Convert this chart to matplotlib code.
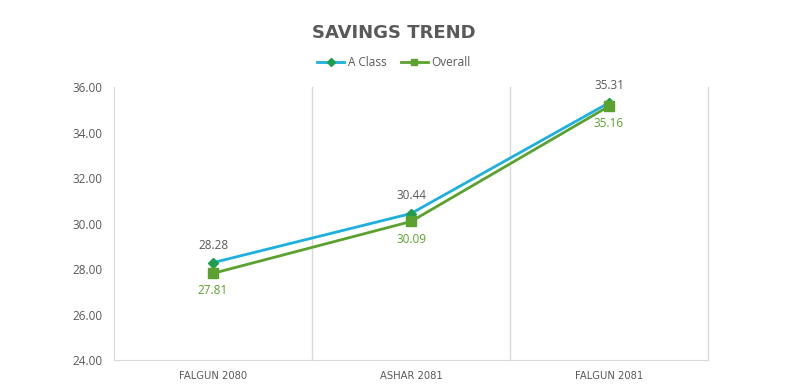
import matplotlib
matplotlib.use("Agg")
import matplotlib.pyplot as plt
from matplotlib.font_manager import FontProperties

categories = ["FALGUN 2080", "ASHAR 2081", "FALGUN 2081"]
a_class = [28.28, 30.44, 35.31]
overall = [27.81, 30.09, 35.16]
yticks = [24, 26, 28, 30, 32, 34, 36]

plt.rcParams['font.family'] = ['Open Sans', 'DejaVu Sans']

fig = plt.figure(figsize=(7.88, 3.91), dpi=100)
ax = fig.add_axes([0.1447, 0.0793, 0.7538, 0.698])
x = list(range(len(categories)))

blue = "#1CB0E0"
green = "#5BA12E"
dgreen = "#1E9E4A"
gray = "#595959"
grid = "#D9D9D9"

ax.plot(x, a_class, color=blue, lw=2, marker="D", ms=5, mfc=dgreen, mec=dgreen, label="A Class", zorder=3)
ax.plot(x, overall, color=green, lw=2, marker="s", ms=6.5, mfc=green, mec=green, label="Overall", zorder=3)

for xi, v in zip(x, a_class):
    ax.annotate(f"{v:.2f}", (xi, v), xytext=(0, 8), textcoords="offset points",
                ha="center", va="bottom", fontsize=8.5, color=gray)
for xi, v in zip(x, overall):
    ax.annotate(f"{v:.2f}", (xi, v), xytext=(0, -8), textcoords="offset points",
                ha="center", va="top", fontsize=8.5, color=green)

ax.set_xlim(-0.5, 2.5)
ax.set_ylim(24, 36)
ax.set_yticks(yticks)
ax.set_yticklabels([f"{t:.2f}" for t in yticks], fontsize=8.5, color=gray)
ax.set_xticks(x)
ax.set_xticklabels(categories, fontfamily="DejaVu Sans", fontsize=7.2, color=gray)
ax.tick_params(axis="both", length=0, pad=8)
for xv in [0.5, 1.5, 2.5]:
    ax.axvline(xv, color=grid, lw=1, zorder=0, clip_on=False)
for s in ["top", "right"]:
    ax.spines[s].set_visible(False)
ax.spines["left"].set_color(grid)
ax.spines["bottom"].set_color(grid)

fig.text(0.5, 0.915, "SAVINGS TREND", ha="center", va="center",
         fontproperties=FontProperties(family="DejaVu Sans", size=13, weight="bold"),
         color=gray)
leg = fig.legend(loc="center", bbox_to_anchor=(0.5, 0.84), ncol=2, frameon=False,
                 fontsize=8.5, handlelength=2.3, columnspacing=1.2, handletextpad=0.3,
                 labelcolor=gray, markerscale=0.75)

fig.savefig("out.png", dpi=100)
